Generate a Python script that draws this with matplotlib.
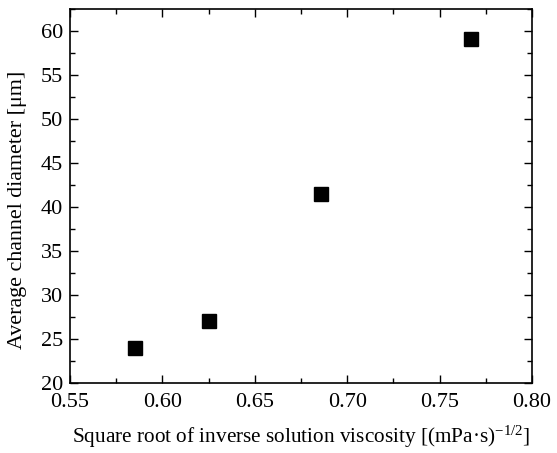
import matplotlib
matplotlib.use('Agg')
import matplotlib.pyplot as plt
from matplotlib.ticker import MultipleLocator

plt.rcParams['font.family'] = ['Liberation Serif', 'DejaVu Serif']
plt.rcParams['mathtext.fontset'] = 'custom'
plt.rcParams['mathtext.rm'] = 'Liberation Serif'
plt.rcParams['mathtext.it'] = 'Liberation Serif'

# sqrt(1/viscosity) vs channel diameter
inv_visc_sqrt = [0.585, 0.625, 0.686, 0.767]
diameter = [24.0, 27.1, 41.5, 59.1]

fig = plt.figure(figsize=(5.57, 4.53), dpi=100)
ax = fig.add_axes([0.1257, 0.1545, 0.8295, 0.8255])

ax.plot(inv_visc_sqrt, diameter, 's', color='black', markersize=9.5, linestyle='none')

ax.set_xlim(0.55, 0.80)
ax.set_ylim(20, 62.5)
ax.xaxis.set_major_locator(MultipleLocator(0.05))
ax.xaxis.set_minor_locator(MultipleLocator(0.025))
ax.yaxis.set_major_locator(MultipleLocator(5))
ax.yaxis.set_minor_locator(MultipleLocator(2.5))
ax.xaxis.set_major_formatter(plt.FuncFormatter(lambda v, p: f'{v:.2f}'))

ax.tick_params(which='both', direction='in', top=True, right=True, labelsize=16, width=1)
ax.tick_params(which='major', length=6)
ax.tick_params(which='minor', length=3.5)
ax.tick_params(axis='x', pad=7.5)
ax.tick_params(axis='y', pad=5)
for s in ax.spines.values():
    s.set_linewidth(1.2)

ax.set_xlabel('Square root of inverse solution viscosity [(mPa·s)$^{-1/2}$]', fontsize=15.3, labelpad=8)
ax.set_ylabel('Average channel diameter [μm]', fontsize=15.8)
ax.yaxis.set_label_coords(-0.093, 0.463)

fig.savefig('out.png', dpi=100)
